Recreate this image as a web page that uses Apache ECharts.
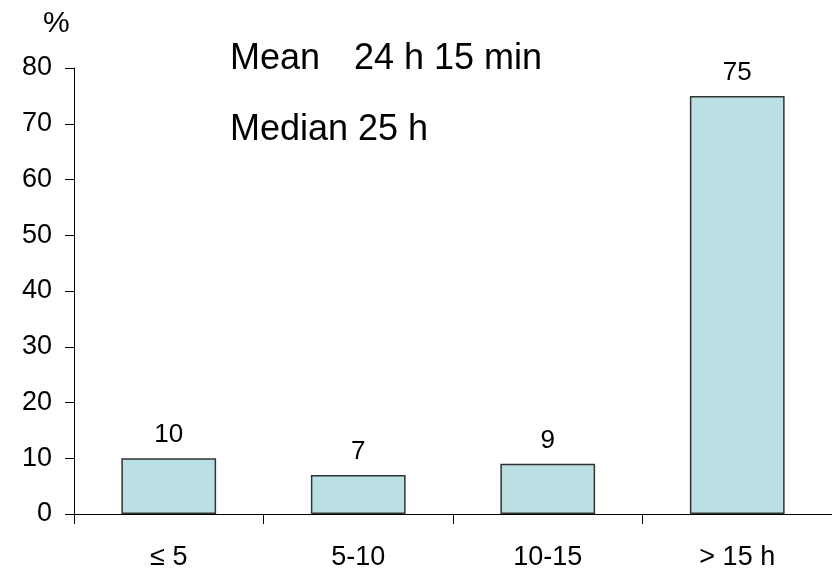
<!DOCTYPE html>
<html>
<head>
<meta charset="utf-8">
<script src="https://cdn.jsdelivr.net/npm/echarts@6/dist/echarts.min.js"></script>
<style>html,body{margin:0;padding:0;background:#fff}#c{width:832px;height:571px}</style>
</head>
<body>
<div id="c"></div>
<script>
var categories = ['≤ 5', '5-10', '10-15', '> 15 h'];
var percentValues = [10, 7, 9, 75];
var yAxisName = '%';
var statsLabels = ['Mean', '24 h 15 min', 'Median 25 h'];

var FONT = '"Liberation Sans", Arial, sans-serif';
var chart = echarts.init(document.getElementById('c'), null, {renderer: 'canvas'});
chart.setOption({
  animation: false,
  backgroundColor: '#ffffff',
  grid: {left: 74, right: -4, top: 68, bottom: 57},
  xAxis: {
    type: 'category',
    data: categories,
    axisLine: {lineStyle: {color: '#000', width: 1}},
    axisTick: {show: true, length: 10, lineStyle: {color: '#000'}},
    axisLabel: {color: '#000', fontSize: 27, fontFamily: FONT, margin: 30}
  },
  yAxis: {
    type: 'value',
    min: 0, max: 80, interval: 10,
    axisLine: {show: true, lineStyle: {color: '#000', width: 1}},
    axisTick: {show: true, length: 9, lineStyle: {color: '#000'}},
    axisLabel: {color: '#000', fontSize: 27, fontFamily: FONT, margin: 22},
    splitLine: {show: false}
  },
  series: [{
    type: 'bar',
    data: percentValues,
    barWidth: '50%',
    itemStyle: {color: '#BBE0E3', borderColor: '#333333', borderWidth: 1.5},
    label: {show: true, position: 'top', distance: 10, color: '#000', fontSize: 26, fontFamily: FONT}
  }],
  graphic: [
    {type: 'text', left: 43, top: 9, style: {text: yAxisName, fontSize: 30, fontFamily: FONT, fill: '#000'}},
    {type: 'text', left: 230, top: 41, style: {text: statsLabels[0], fontSize: 36, fontFamily: FONT, fill: '#000'}},
    {type: 'text', left: 354, top: 41, style: {text: statsLabels[1], fontSize: 36, fontFamily: FONT, fill: '#000'}},
    {type: 'text', left: 230, top: 112, style: {text: statsLabels[2], fontSize: 36, fontFamily: FONT, fill: '#000'}}
  ]
});
</script>
</body>
</html>
